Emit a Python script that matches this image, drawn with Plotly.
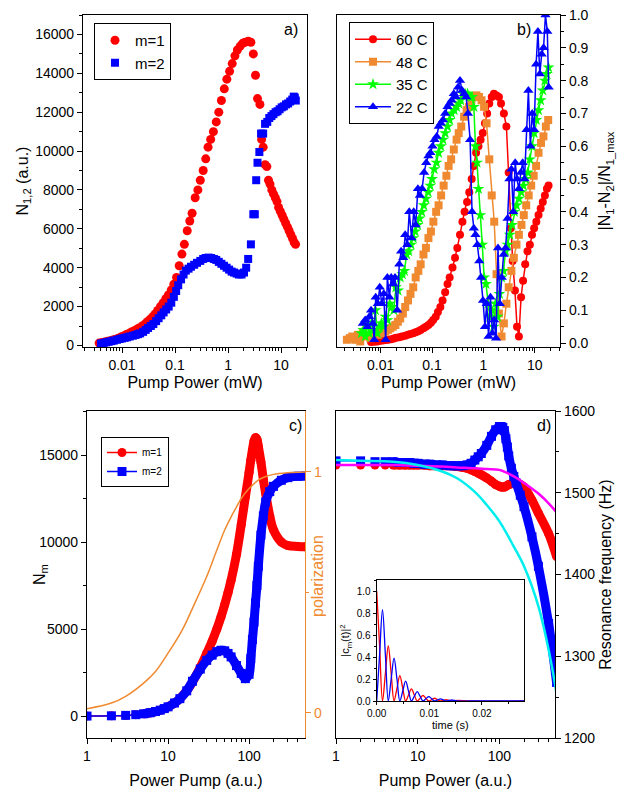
import plotly.graph_objects as go

W, H = 626, 789
def px(x): return x / W
def py(y): return 1 - y / H

# ---------------- panel a) data ----------------
a_x1 = [0.0037, 0.0042, 0.0047, 0.0053, 0.006, 0.0067, 0.0075, 0.0085, 0.0095, 0.0107, 0.012, 0.0135, 0.015, 0.017,
        0.019, 0.021, 0.024, 0.027, 0.03, 0.034, 0.038, 0.042, 0.047, 0.053, 0.06, 0.067, 0.075, 0.085, 0.095, 0.107,
        0.12, 0.135, 0.15, 0.17, 0.19, 0.21, 0.24, 0.27, 0.3, 0.34, 0.38, 0.42, 0.47, 0.53, 0.6, 0.67, 0.75, 0.85, 0.95,
        1.07, 1.2, 1.35, 1.5, 1.7, 1.9, 2.1, 2.4, 2.7, 3.0, 3.3, 3.6, 4.0, 4.3, 4.6, 5.0, 5.4, 5.8, 6.2, 6.7, 7.2, 7.8,
        8.4, 9.0, 9.7, 10.5, 11.3, 12.2, 13.2, 14.2, 15.3, 16.5, 17.7, 18.8]
a_m1 = [120, 150, 180, 210, 240, 280, 320, 370, 430, 490, 560, 620, 690, 760, 830, 900, 1000, 1100, 1220, 1350, 1480,
        1620, 1800, 2000, 2200, 2400, 2600, 2850, 3150, 3500, 4100, 4700, 5200, 5900, 6400, 6800, 7600, 8000, 8500, 9000,
        9600, 10200, 10600, 11000, 11500, 12000, 12600, 13200, 13700, 14100, 14500, 14900, 15200, 15400, 15550, 15600,
        15650, 15600, 15000, 13900, 12700, 12400, 10600, 10200, 9300, 9200, 8500, 8300, 8000, 7800, 7600, 7400, 7100,
        6900, 6700, 6500, 6300, 6100, 5900, 5700, 5500, 5300, 5200]
a_x2 = [0.004, 0.0045, 0.005, 0.0056, 0.0063, 0.007, 0.008, 0.009, 0.01, 0.0112, 0.0125, 0.014, 0.016, 0.018, 0.02,
        0.022, 0.025, 0.028, 0.031, 0.035, 0.039, 0.044, 0.049, 0.055, 0.061, 0.068, 0.076, 0.085, 0.095, 0.105, 0.115,
        0.13, 0.145, 0.16, 0.18, 0.2, 0.23, 0.26, 0.3, 0.34, 0.38, 0.43, 0.48, 0.54, 0.6, 0.67, 0.75, 0.84, 0.94, 1.05,
        1.17, 1.3, 1.45, 1.6, 1.8, 2.0, 2.2, 2.4, 2.7, 3.0, 3.2, 3.4, 3.6, 3.9, 4.2, 4.6, 5.0, 5.5, 6.0, 6.6, 7.2, 7.9,
        8.6, 9.4, 10.3, 11.3, 12.4, 13.6, 14.9, 16.3, 17.4, 18.2, 19.0]
a_m2 = [100, 130, 160, 190, 220, 250, 290, 330, 360, 390, 420, 460, 500, 540, 580, 620, 700, 800, 900, 1000, 1100, 1250,
        1400, 1550, 1700, 1850, 2000, 2200, 2500, 2800, 3100, 3400, 3650, 3850, 3950, 4050, 4150, 4250, 4350, 4450, 4500,
        4520, 4500, 4450, 4400, 4300, 4200, 4100, 4000, 3900, 3800, 3750, 3700, 3650, 3650, 3750, 4000, 4450, 5200, 6750,
        6750, 8500, 9400, 9950, 10900, 10900, 11400, 11500, 11700, 11800, 11900, 12000, 12050, 12150, 12250, 12300,
        12400, 12450, 12550, 12650, 12800, 12750, 12600]

# ---------------- panel b) data ----------------
b60_x = [0.0065, 0.0075, 0.0085, 0.0095, 0.011, 0.0125, 0.014, 0.016, 0.018, 0.02, 0.023, 0.026, 0.03, 0.034, 0.038,
         0.043, 0.048, 0.054, 0.06, 0.068, 0.076, 0.085, 0.095, 0.105, 0.118, 0.13, 0.145, 0.16, 0.18, 0.2, 0.22, 0.25,
         0.28, 0.31, 0.35, 0.39, 0.43, 0.48, 0.53, 0.59, 0.65, 0.72, 0.8, 0.88, 0.97, 1.07, 1.18, 1.3, 1.45, 1.6, 1.8,
         2.0, 2.2, 2.5, 2.8, 3.1, 3.4, 3.7, 4.1, 4.5, 4.9, 5.4, 5.9, 6.5, 7.2, 8.0, 8.8, 9.7, 10.7, 11.8, 13.0, 14.3,
         15.7, 17.2, 18.5]
b60_y = [0.003, 0.004, 0.005, 0.006, 0.008, 0.009, 0.01, 0.012, 0.014, 0.016, 0.018, 0.02, 0.022, 0.025, 0.028, 0.03,
         0.033, 0.036, 0.04, 0.045, 0.05, 0.055, 0.062, 0.07, 0.08, 0.095, 0.11, 0.13, 0.155, 0.18, 0.2, 0.23, 0.26,
         0.29, 0.33, 0.37, 0.4, 0.43, 0.46, 0.5, 0.54, 0.58, 0.6, 0.62, 0.64, 0.67, 0.7, 0.73, 0.75, 0.76, 0.755, 0.75,
         0.73, 0.7, 0.66, 0.52, 0.35, 0.25, 0.16, 0.05, 0.02, 0.14, 0.19, 0.24, 0.28, 0.3, 0.33, 0.35, 0.37, 0.39, 0.41,
         0.43, 0.45, 0.47, 0.48]
b48_x = [0.0022, 0.0025, 0.0028, 0.0032, 0.0036, 0.004, 0.0045, 0.005, 0.0056, 0.0063, 0.007, 0.0079, 0.0088, 0.0098,
         0.011, 0.0123, 0.0138, 0.0154, 0.0172, 0.0193, 0.0216, 0.024, 0.027, 0.03, 0.034, 0.038, 0.043, 0.048, 0.054,
         0.06, 0.068, 0.076, 0.085, 0.095, 0.106, 0.12, 0.134, 0.15, 0.168, 0.19, 0.21, 0.235, 0.265, 0.3, 0.33, 0.37,
         0.42, 0.47, 0.52, 0.58, 0.65, 0.73, 0.82, 0.92, 1.03, 1.15, 1.3, 1.45, 1.62, 1.8, 2.0, 2.25, 2.5, 2.8, 3.1, 3.5,
         3.9, 4.4, 4.9, 5.5, 6.1, 6.8, 7.6, 8.5, 9.5, 10.6, 11.8, 13.2, 14.7, 16.4, 18.2]
b48_y = [0.01, 0.015, 0.02, 0.01, 0.025, 0.005, 0.03, 0.02, 0.025, 0.015, 0.02, 0.03, 0.025, 0.03, 0.03, 0.035, 0.04,
         0.045, 0.05, 0.055, 0.065, 0.075, 0.09, 0.11, 0.13, 0.15, 0.17, 0.2, 0.22, 0.24, 0.27, 0.29, 0.32, 0.34, 0.37,
         0.4, 0.42, 0.45, 0.48, 0.51, 0.54, 0.56, 0.59, 0.62, 0.64, 0.66, 0.69, 0.71, 0.72, 0.74, 0.75, 0.755, 0.75,
         0.74, 0.72, 0.67, 0.56, 0.45, 0.37, 0.21, 0.09, 0.02, 0.06, 0.12, 0.17, 0.22, 0.26, 0.3, 0.33, 0.36, 0.39,
         0.42, 0.45, 0.48, 0.51, 0.54, 0.58, 0.61, 0.63, 0.66, 0.68]
b35_x = [0.0042, 0.0046, 0.005, 0.0055, 0.006, 0.0066, 0.0072, 0.0079, 0.0086, 0.0094, 0.0103, 0.0113, 0.0124, 0.0136,
         0.015, 0.0165, 0.018, 0.0198, 0.0218, 0.024, 0.0264, 0.029, 0.032, 0.035, 0.039, 0.043, 0.047, 0.052, 0.057,
         0.063, 0.069, 0.076, 0.084, 0.092, 0.1, 0.11, 0.122, 0.134, 0.148, 0.163, 0.18, 0.2, 0.22, 0.24, 0.27, 0.3,
         0.33, 0.36, 0.4, 0.44, 0.49, 0.54, 0.6, 0.65, 0.7, 0.75, 0.8, 0.87, 0.95, 1.03, 1.12, 1.22, 1.33, 1.45, 1.58,
         1.72, 1.88, 2.05, 2.25, 2.45, 2.7, 2.95, 3.25, 3.6, 4.0, 4.4, 4.9, 5.4, 6.0, 6.6, 7.3, 8.0, 8.8, 9.7, 10.7,
         11.8, 13.0, 14.3, 15.7, 17.2, 18.5]
b35_y = [0.03, 0.04, 0.02, 0.05, 0.03, 0.06, 0.04, 0.1, 0.03, 0.05, 0.06, 0.05, 0.08, 0.07, 0.12, 0.11, 0.1, 0.17, 0.16,
         0.2, 0.21, 0.22, 0.27, 0.28, 0.3, 0.32, 0.34, 0.36, 0.38, 0.4, 0.42, 0.44, 0.46, 0.48, 0.5, 0.53, 0.55, 0.58,
         0.6, 0.62, 0.64, 0.66, 0.68, 0.7, 0.71, 0.72, 0.73, 0.74, 0.76, 0.76, 0.76, 0.75, 0.75, 0.72, 0.6, 0.55, 0.47,
         0.39, 0.3, 0.2, 0.18, 0.12, 0.08, 0.1, 0.05, 0.12, 0.08, 0.15, 0.2, 0.22, 0.28, 0.3, 0.33, 0.36, 0.4, 0.42,
         0.44, 0.46, 0.48, 0.5, 0.52, 0.56, 0.6, 0.64, 0.68, 0.71, 0.74, 0.77, 0.8, 0.82, 0.84]
b22_x = [0.0045, 0.005, 0.0055, 0.006, 0.0065, 0.007, 0.0075, 0.008, 0.0088, 0.0096, 0.0105, 0.0115, 0.0125, 0.0135,
         0.0148, 0.016, 0.0175, 0.019, 0.021, 0.023, 0.025, 0.0275, 0.03, 0.033, 0.036, 0.04, 0.044, 0.048, 0.053,
         0.058, 0.064, 0.07, 0.077, 0.085, 0.093, 0.102, 0.112, 0.123, 0.135, 0.148, 0.163, 0.18, 0.2, 0.22, 0.24,
         0.265, 0.29, 0.32, 0.35, 0.385, 0.42, 0.46, 0.5, 0.55, 0.6, 0.65, 0.7, 0.76, 0.83, 0.9, 0.98, 1.07, 1.16, 1.26,
         1.37, 1.49, 1.62, 1.76, 1.92, 2.08, 2.27, 2.47, 2.7, 2.95, 3.2, 3.5, 3.8, 4.15, 4.5, 4.9, 5.35, 5.8, 6.3, 6.9,
         7.5, 8.2, 8.9, 9.7, 10.6, 11.5, 12.5, 13.6, 14.8, 16.1, 17.5, 18.6]
b22_y = [0.06, 0.07, 0.05, 0.08, 0.1, 0.06, 0.01, 0.14, 0.12, 0.17, 0.12, 0.15, 0.01, 0.2, 0.14, 0.2, 0.18, 0.2, 0.1,
         0.24, 0.28, 0.26, 0.33, 0.3, 0.4, 0.32, 0.4, 0.36, 0.47, 0.45, 0.47, 0.52, 0.55, 0.57, 0.58, 0.6, 0.62, 0.63,
         0.66, 0.67, 0.68, 0.7, 0.72, 0.73, 0.74, 0.76, 0.75, 0.78, 0.8, 0.77, 0.76, 0.75, 0.7, 0.62, 0.4, 0.35, 0.33,
         0.3, 0.25, 0.2, 0.13, 0.05, 0.12, 0.02, 0.14, 0.03, 0.07, 0.015, 0.29, 0.12, 0.2, 0.27, 0.29, 0.38, 0.5, 0.53,
         0.4, 0.55, 0.5, 0.47, 0.52, 0.55, 0.5, 0.65, 0.77, 0.6, 0.7, 0.65, 0.85, 0.95, 0.82, 0.88, 0.9, 1.0, 0.95, 0.78]

# ---------------- panel c) data ----------------
c_x = [1, 2, 3, 4, 5, 6, 7, 8, 9, 10, 12, 14, 17, 20, 25, 30, 35, 40, 45, 50, 55, 60, 70, 80, 90, 100, 105, 110, 115,
       120, 125, 130, 140, 150, 160, 180, 200, 250, 300, 400, 500]
c_m1 = [0, 15, 40, 80, 130, 190, 260, 340, 430, 530, 750, 1000, 1450, 1950, 2800, 3600, 4300, 5000, 5700, 6400, 7100,
        7800, 9300, 11000, 12600, 14000, 14700, 15300, 15800, 16000, 15900, 15500, 14600, 13600, 12800, 11500, 10700,
        10000, 9800, 9750, 9730]
c_m2 = [0, 15, 40, 80, 130, 190, 260, 340, 430, 530, 750, 1000, 1450, 2000, 2700, 3200, 3500, 3700, 3780, 3750, 3600,
        3400, 2900, 2450, 2150, 2400, 3300, 4400, 5400, 6500, 7500, 8600, 10400, 11500, 12300, 12900, 13200, 13550,
        13700, 13780, 13800]
pol_x = [1, 2, 3, 5, 7, 10, 15, 20, 30, 40, 50, 60, 70, 80, 100, 130, 150, 200, 300, 500]
pol_y = [0.017, 0.041, 0.069, 0.124, 0.172, 0.248, 0.345, 0.434, 0.566, 0.676, 0.759, 0.814, 0.855, 0.89, 0.931, 0.966,
         0.977, 0.99, 0.997, 1.0]

# ---------------- panel d) data ----------------
d_x = [1, 2, 3, 4, 5, 6, 7, 8, 9, 10, 12, 14, 17, 20, 25, 30, 35, 40, 45, 50, 55, 60, 70, 80, 90, 100, 105, 110, 115,
       120, 125, 130, 140, 150, 160, 180, 200, 250, 300, 400, 500]
d_m1 = [1534, 1534, 1534, 1534, 1534, 1534, 1534, 1534, 1534, 1534, 1534, 1533, 1533, 1533, 1533, 1532, 1531, 1530,
        1528, 1526, 1524, 1522, 1518, 1514, 1510, 1508, 1507, 1507, 1507, 1508, 1509, 1510, 1511, 1512, 1512, 1510,
        1507, 1491, 1475, 1450, 1422]
d_m2 = [1539, 1539, 1538, 1538, 1538, 1537, 1537, 1537, 1536, 1536, 1535, 1535, 1534, 1534, 1533, 1533, 1533, 1534,
        1536, 1540, 1544, 1548, 1558, 1569, 1577, 1581, 1581, 1580, 1576, 1566, 1556, 1545, 1530, 1520, 1512, 1497,
        1483, 1446, 1410, 1340, 1268]
line_x = [1, 2, 5, 10, 20, 30, 50, 70, 100, 150, 200, 300, 400, 500]
d_magenta = [1534, 1534, 1534, 1533, 1532, 1531, 1530, 1529, 1528, 1520, 1512, 1499, 1487, 1476]
d_cyan = [1540, 1539, 1538, 1534, 1526, 1518, 1501, 1485, 1465, 1434, 1410, 1361, 1308, 1255]

# ---------------- inset data ----------------
t = [0, 0.00055, 0.0011, 0.00165, 0.0022, 0.00275, 0.0033, 0.00385, 0.0044, 0.00495, 0.0055, 0.00605, 0.0066,
     0.00715, 0.0077, 0.00825, 0.0088, 0.00935, 0.0099, 0.01045, 0.011, 0.01155, 0.0121, 0.01265, 0.0132, 0.01375,
     0.0143, 0.01485, 0.0154, 0.018, 0.028]
c1 = [1.0, 0.5, 0, 0.25, 0.5, 0.25, 0, 0.115, 0.23, 0.115, 0, 0.055, 0.11, 0.055, 0, 0.025, 0.05, 0.025, 0, 0.012,
      0.025, 0.012, 0, 0.006, 0.012, 0.006, 0, 0.003, 0.006, 0, 0]
c2 = [0, 0.42, 0.83, 0.42, 0, 0.2, 0.39, 0.2, 0, 0.09, 0.18, 0.09, 0, 0.043, 0.085, 0.043, 0, 0.02, 0.04, 0.02, 0,
      0.01, 0.02, 0.01, 0, 0.0045, 0.009, 0.0045, 0, 0, 0]

RED, BLUE, ORANGE, GREEN = '#ff0000', '#0000ff', '#f08a30', '#00ff00'
MAG, CYAN = '#ff00ff', '#00eeee'
FONT = 'Liberation Sans, Arial, sans-serif'

fig = go.Figure()

# panel a
fig.add_trace(go.Scatter(x=a_x1, y=a_m1, mode='markers', name='m=1', xaxis='x', yaxis='y', legend='legend',
                         marker=dict(symbol='circle', size=9, color=RED)))
fig.add_trace(go.Scatter(x=a_x2, y=a_m2, mode='markers', name='m=2', xaxis='x', yaxis='y', legend='legend',
                         marker=dict(symbol='square', size=8, color=BLUE)))

# panel b
for xs, ys, nm, col, sym, sz in [(b60_x, b60_y, '60 C', RED, 'circle', 8),
                                 (b48_x, b48_y, '48 C', ORANGE, 'square', 8),
                                 (b35_x, b35_y, '35 C', GREEN, 'star', 9),
                                 (b22_x, b22_y, '22 C', BLUE, 'triangle-up', 9)]:
    fig.add_trace(go.Scatter(x=xs, y=ys, mode='lines+markers', name=nm, xaxis='x2', yaxis='y2', legend='legend2',
                             line=dict(color=col, width=1.5), marker=dict(symbol=sym, size=sz, color=col)))

# panel c
for ys, nm, col, sym in [(c_m1, 'm=1', RED, 'circle'), (c_m2, 'm=2', BLUE, 'square')]:
    k = 4
    fig.add_trace(go.Scatter(x=c_x[k:], y=ys[k:], mode='lines', showlegend=False, xaxis='x3', yaxis='y3',
                             line=dict(color=col, width=9, shape='spline')))
    fig.add_trace(go.Scatter(x=c_x, y=ys, mode='lines+markers', name=nm, xaxis='x3', yaxis='y3', legend='legend3',
                             line=dict(color=col, width=1.5, shape='spline'),
                             marker=dict(symbol=sym, size=9, color=col)))
fig.add_trace(go.Scatter(x=pol_x, y=pol_y, mode='lines', showlegend=False, xaxis='x3', yaxis='y4',
                         line=dict(color=ORANGE, width=1.5, shape='spline')))

# panel d
for ys, col, sym in [(d_m1, RED, 'circle'), (d_m2, BLUE, 'square')]:
    k = 4
    fig.add_trace(go.Scatter(x=d_x[k:], y=ys[k:], mode='lines', showlegend=False, xaxis='x4', yaxis='y5',
                             line=dict(color=col, width=9, shape='spline')))
    fig.add_trace(go.Scatter(x=d_x, y=ys, mode='lines+markers', showlegend=False, xaxis='x4', yaxis='y5',
                             line=dict(color=col, width=1.5, shape='spline'),
                             marker=dict(symbol=sym, size=9, color=col)))
fig.add_trace(go.Scatter(x=line_x, y=d_magenta, mode='lines', showlegend=False, xaxis='x4', yaxis='y5',
                         line=dict(color=MAG, width=2.5, shape='spline')))
fig.add_trace(go.Scatter(x=line_x, y=d_cyan, mode='lines', showlegend=False, xaxis='x4', yaxis='y5',
                         line=dict(color=CYAN, width=2.5, shape='spline')))

# inset
fig.add_trace(go.Scatter(x=t, y=c1, mode='lines', showlegend=False, xaxis='x5', yaxis='y6',
                         line=dict(color=RED, width=1.3, shape='spline')))
fig.add_trace(go.Scatter(x=t, y=c2, mode='lines', showlegend=False, xaxis='x5', yaxis='y6',
                         line=dict(color=BLUE, width=1.3, shape='spline')))

minor_log = [m * 10 ** e for e in range(-3, 3) for m in range(2, 10)]

base = dict(showgrid=False, zeroline=False, showline=True, linecolor='black', linewidth=1.2, ticks='outside',
            ticklen=5, tickwidth=1.2, tickcolor='black', tickfont=dict(size=14, color='black'), automargin=False)
def ax(**kw):
    d = dict(base)
    d.update(kw)
    return d
def mnr(**kw):
    d = dict(ticks='outside', ticklen=3, tickwidth=1, tickcolor='black', showgrid=False)
    d.update(kw)
    return d

logmin = mnr(tickmode='array', tickvals=minor_log)

fig.update_layout(
    width=W, height=H, margin=dict(l=0, r=0, t=0, b=0), template='none',
    paper_bgcolor='white', plot_bgcolor='white',
    font=dict(family=FONT, color='black', size=14),
    xaxis=ax(domain=[px(83), px(307)], anchor='y', type='log', range=[-2.736, 1.49], mirror=True,
             tickmode='array', tickvals=[0.01, 0.1, 1, 10], ticktext=['0.01', '0.1', '1', '10'], minor=logmin,
             title=dict(text='Pump Power (mW)', font=dict(size=16), standoff=4)),
    yaxis=ax(domain=[py(347), py(15)], anchor='x', range=[-80, 17000], tick0=0, dtick=2000, mirror=True,
             tickformat='d', minor=mnr(dtick=1000),
             title=dict(text='N<sub>1,2</sub> (a.u.)', font=dict(size=16))),
    xaxis2=ax(domain=[px(337), px(560)], anchor='y2', type='log', range=[-2.85, 1.49], mirror=True,
              tickmode='array', tickvals=[0.01, 0.1, 1, 10], ticktext=['0.01', '0.1', '1', '10'], minor=logmin,
              title=dict(text='Pump Power (mW)', font=dict(size=16), standoff=4)),
    yaxis2=ax(domain=[py(347), py(15)], anchor='x2', side='right', range=[-0.012, 1.0], tick0=0, dtick=0.1,
              tickformat='.1f', mirror=True, minor=mnr(dtick=0.05),
              title=dict(text='|N<sub>1</sub>-N<sub>2</sub>|/N<sub>1_max</sub>', font=dict(size=16))),
    xaxis3=ax(domain=[px(87), px(305)], anchor='y3', type='log', range=[0, 2.69], mirror=True,
              tickmode='array', tickvals=[1, 10, 100], ticktext=['1', '10', '100'], minor=logmin,
              title=dict(text='Power Pump (a.u.)', font=dict(size=16))),
    yaxis3=ax(domain=[py(738), py(411)], anchor='x3', range=[-1260, 17530], tickmode='array',
              tickvals=[0, 5000, 10000, 15000], ticktext=['0', '5000', '10000', '15000'],
              minor=mnr(dtick=2500, tick0=0),
              title=dict(text='N<sub>m</sub>', font=dict(size=16))),
    yaxis4=ax(overlaying='y3', anchor='x3', side='right', range=[-0.104, 1.253], tickmode='array', tickvals=[0, 1],
              linecolor=ORANGE, tickcolor=ORANGE, tickfont=dict(size=14, color=ORANGE),
              minor=mnr(tickmode='array', tickvals=[0.5], tickcolor=ORANGE)),
    xaxis4=ax(domain=[px(336), px(555)], anchor='y5', type='log', range=[0, 2.68], mirror=True,
              tickmode='array', tickvals=[1, 10, 100], ticktext=['1', '10', '100'], minor=logmin,
              title=dict(text='Pump Power (a.u.)', font=dict(size=16))),
    yaxis5=ax(domain=[py(738), py(411)], anchor='x4', side='right', range=[1200, 1600], tick0=1200, dtick=100,
              tickformat='d', mirror=True, minor=mnr(dtick=50),
              title=dict(text='Resonance frequency (Hz)', font=dict(size=16))),
    xaxis5=ax(domain=[px(376.7), px(524)], anchor='y6', range=[0, 0.028], mirror=True, ticklen=3,
              tickmode='array', tickvals=[0, 0.01, 0.02], ticktext=['0.00', '0.01', '0.02'],
              tickfont=dict(size=10, color='black'), minor=mnr(dtick=0.005, ticklen=2),
              title=dict(text='time (s)', font=dict(size=11), standoff=2)),
    yaxis6=ax(domain=[py(701), py(580)], anchor='x5', range=[0, 1.1], tick0=0, dtick=0.2, tickformat='.1f',
              mirror=True, ticklen=3, tickfont=dict(size=10, color='black'), minor=mnr(dtick=0.1, ticklen=2),
              title=dict(text='|c<sub>m</sub>(t)|<sup>2</sup>', font=dict(size=11), standoff=4)),
    legend=dict(x=px(94), y=py(23), xanchor='left', yanchor='top', bordercolor='black', borderwidth=1,
                bgcolor='white', font=dict(size=15), itemwidth=30, tracegroupgap=0),
    legend2=dict(x=px(349), y=py(22), xanchor='left', yanchor='top', bordercolor='black', borderwidth=1,
                 bgcolor='white', font=dict(size=15), itemwidth=36, tracegroupgap=0),
    legend3=dict(x=px(101), y=py(437), xanchor='left', yanchor='top', bordercolor='black', borderwidth=1,
                 bgcolor='white', font=dict(size=10), itemwidth=30, tracegroupgap=0),
)

for txt, x, y in [('a)', 291, 29), ('b)', 524, 29), ('c)', 295, 426), ('d)', 544, 425)]:
    fig.add_annotation(text=txt, x=px(x), y=py(y), xref='paper', yref='paper', showarrow=False,
                       xanchor='center', yanchor='middle', font=dict(size=16, color='black'))
fig.add_annotation(text='polarization', x=px(317), y=py(576), xref='paper', yref='paper', showarrow=False,
                   xanchor='center', yanchor='middle', textangle=-90, font=dict(size=16, color=ORANGE))

fig.write_html('out.html')
